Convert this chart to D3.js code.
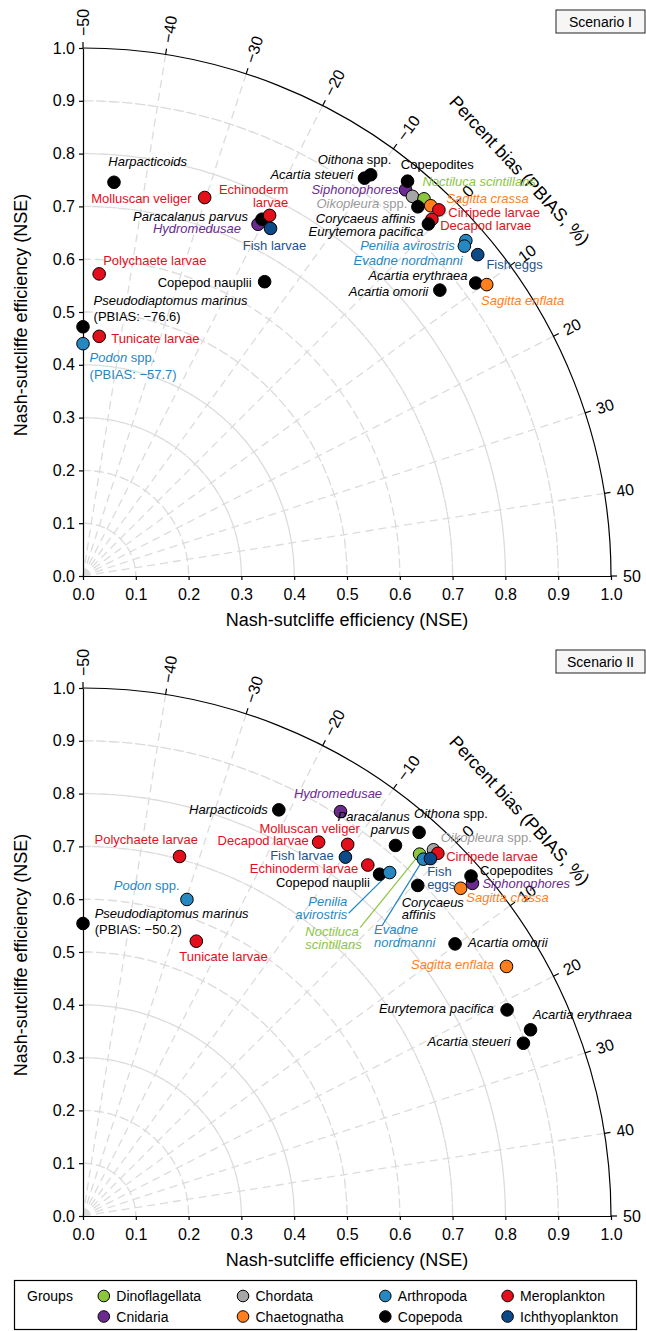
<!DOCTYPE html>
<html><head><meta charset="utf-8">
<script src="https://cdn.jsdelivr.net/npm/d3@7"></script>
<style>
body{margin:0;background:#fff}
svg{display:block;font-family:"Liberation Sans",Arial,Helvetica,sans-serif}
</style>
</head><body>
<svg id="chart" width="646" height="1331"></svg>
<script>
// ---------------- DATA ----------------
const species = ["Harpacticoids","Molluscan veliger","Hydromedusae","Paracalanus parvus","Echinoderm larvae","Fish larvae",
  "Polychaete larvae","Copepod nauplii","Pseudodiaptomus marinus","Tunicate larvae","Podon spp.","Oithona spp.",
  "Acartia steueri","Siphonophores","Copepodites","Oikopleura spp.","Noctiluca scintillans","Sagitta crassa",
  "Cirripede larvae","Corycaeus affinis","Decapod larvae","Eurytemora pacifica","Penilia avirostris","Evadne nordmanni",
  "Fish eggs","Acartia erythraea","Sagitta enflata","Acartia omorii"];
const speciesGroup = ["Copepoda","Meroplankton","Cnidaria","Copepoda","Meroplankton","Ichthyoplankton",
  "Meroplankton","Copepoda","Copepoda","Meroplankton","Arthropoda","Copepoda",
  "Copepoda","Cnidaria","Copepoda","Chordata","Dinoflagellata","Chaetognatha",
  "Meroplankton","Copepoda","Meroplankton","Copepoda","Arthropoda","Arthropoda",
  "Ichthyoplankton","Copepoda","Chaetognatha","Copepoda"];
// Scenario I
const nseScenario1 = [0.748,0.753,0.744,0.756,0.769,0.748,
  0.573,0.655,0.472,0.455,0.440,0.935,
  0.923,0.953,0.968,0.952,0.963,0.962,
  0.967,0.944,0.945,0.934,0.964,0.955,
  0.964,0.928,0.943,0.866];
const pbiasScenario1 = [-45.0,-30.2,-20.6,-20.4,-19.6,-18.5,
  -46.6,-14.8,-76.6,-45.7,-57.7,-10.4,
  -10.8,-5.7,-6.2,-4.5,-3.2,-2.0,
  -0.9,-3.1,-0.7,-0.6,4.2,4.6,
  6.5,9.2,10.2,7.0];
// Scenario II
const nseScenario2 = [0.854,0.864,0.908,0.918,0.856,0.842,
  0.705,0.857,0.554,0.563,0.631,0.966,
  0.896,0.970,0.977,0.960,0.936,0.947,
  0.961,0.891,0.837,0.893,0.872,0.934,
  0.944,0.918,0.931,0.873];
const pbiasScenario2 = [-21.4,-10.6,-13.9,-5.4,-6.6,-9.8,
  -33.3,-4.5,-50.2,-25.1,-29.8,-4.2,
  26.2,5.0,4.2,-1.4,-2.3,4.5,
  -0.7,0.4,-14.2,21.2,-3.6,-1.5,
  -0.9,24.9,16.1,9.8];
const nseTicks = [0,0.1,0.2,0.3,0.4,0.5,0.6,0.7,0.8,0.9,1.0];
const pbiasTicks = [-50,-40,-30,-20,-10,0,10,20,30,40,50];
const groups = ["Dinoflagellata","Cnidaria","Chordata","Chaetognatha","Arthropoda","Copepoda","Meroplankton","Ichthyoplankton"];
const scenarios = ["Scenario I","Scenario II"];

// ---------------- STYLE / LAYOUT ----------------
const groupFill = {Dinoflagellata:"#8cc63f",Cnidaria:"#6a2a8e",Chordata:"#a6a6a6",Chaetognatha:"#ff7f1e",
  Arthropoda:"#2787c1",Copepoda:"#000000",Meroplankton:"#e3101c",Ichthyoplankton:"#0c4a88"};
const groupText = {Dinoflagellata:"#8cc63f",Cnidaria:"#6a2a8e",Chordata:"#9a9a9a",Chaetognatha:"#ff7f1e",
  Arthropoda:"#2787c1",Copepoda:"#000000",Meroplankton:"#e3101c",Ichthyoplankton:"#1d548f"};
const italicSpecies = new Set(["Harpacticoids","Hydromedusae","Paracalanus parvus","Pseudodiaptomus marinus","Podon spp.",
  "Oithona spp.","Acartia steueri","Siphonophores","Oikopleura spp.","Noctiluca scintillans","Sagitta crassa",
  "Corycaeus affinis","Eurytemora pacifica","Penilia avirostris","Evadne nordmanni","Acartia erythraea",
  "Sagitta enflata","Acartia omorii"]);
// label offsets from point: [dx, dy(baseline), anchor, wrap, leaderDx, leaderDy]
const labelLayout1 = {
  "Harpacticoids":[-5.7,-16.3,"start"], "Molluscan veliger":[-13,5,"end"], "Paracalanus parvus":[-14,1.7,"end"],
  "Hydromedusae":[-17,9,"end"], "Echinoderm larvae":[18.7,-21,"end",true], "Fish larvae":[4,22,"middle"],
  "Polychaete larvae":[4,-9,"start"], "Copepod nauplii":[-13,5,"end"], "Pseudodiaptomus marinus":[10.6,-21.6,"start"],
  "Tunicate larvae":[12,7,"start"], "Podon spp.":[6.6,18.7,"start"], "Oithona spp.":[20.7,-11.3,"end"],
  "Acartia steueri":[-11,1,"end"], "Copepodites":[-6.7,-12.4,"start"], "Siphonophores":[-6.7,4.3,"end"],
  "Oikopleura spp.":[-5,11.6,"end"], "Noctiluca scintillans":[-1.6,-12.6,"start"], "Sagitta crassa":[15.7,-2.7,"start"],
  "Cirripede larvae":[9.4,7.3,"start"], "Corycaeus affinis":[-2.3,16,"end"], "Decapod larvae":[8.3,10.7,"start"],
  "Eurytemora pacifica":[-5,12.3,"end"], "Penilia avirostris":[-11,9,"end"], "Evadne nordmanni":[-1.6,19.3,"end"],
  "Fish eggs":[8.7,14.3,"start"], "Acartia erythraea":[-8.3,-3.3,"end"], "Acartia omorii":[-11.6,6,"end"],
  "Sagitta enflata":[-5.7,20,"start"]
};
const labelLayout2 = {
  "Harpacticoids":[-11,4.3,"end"], "Hydromedusae":[-2.5,-14,"middle"], "Paracalanus parvus":[14.3,-24.2,"end",true],
  "Oithona spp.":[-5,-14.4,"start"], "Molluscan veliger":[12.3,-11.8,"end"], "Decapod larvae":[-10,3.3,"end"],
  "Polychaete larvae":[18.4,-12.3,"end"], "Fish larvae":[-11.7,2.8,"end"], "Echinoderm larvae":[-9.6,8.3,"end"],
  "Copepod nauplii":[-9.7,12.8,"end"], "Podon spp.":[-7.4,-9,"end"], "Pseudodiaptomus marinus":[11.7,-5.7,"start"],
  "Tunicate larvae":[-17,20,"start"], "Penilia avirostris":[-42.3,33.4,"end",true,-41,40.7],
  "Noctiluca scintillans":[-114.3,81.7,"start",true,-59.3,73.3], "Evadne nordmanni":[-49.4,75,"start",true,-41,66],
  "Fish eggs":[-3.3,17.4,"start",true], "Corycaeus affinis":[-16,21.3,"start",true], "Oikopleura spp.":[7.3,-7.4,"start"],
  "Cirripede larvae":[8.4,7.7,"start"], "Copepodites":[9,-0.7,"start"], "Siphonophores":[10,5,"start"],
  "Sagitta crassa":[5.7,14,"start"], "Acartia omorii":[13,3,"start"], "Sagitta enflata":[-12.4,2.6,"end"],
  "Eurytemora pacifica":[-13.3,2.7,"end"], "Acartia erythraea":[2.4,-10.7,"start"], "Acartia steueri":[-12.7,2.7,"end"]
};

// ---------------- DRAW ----------------
const svg = d3.select("#chart");
const R = 528, OX = 83;
const rScale = d3.scaleLinear().domain([0,1]).range([0,R]);
const aScale = d3.scaleLinear().domain([-50,50]).range([Math.PI/2,0]).clamp(true);
const fmtPB = v => d3.format(".1f")(v).replace("-","\u2212");
const fmtTick = d => d3.format(".1f")(d);
const minusTick = d => String(d).replace("-","\u2212");

function polar(n,p){ const a=aScale(p), r=rScale(n); return [r*Math.cos(a), -r*Math.sin(a)]; }

function writeLine(textEl, str, italic){
  if(italic && / spp\.$/.test(str)){
    textEl.append("tspan").attr("font-style","italic").text(str.replace(/ spp\.$/,""));
    textEl.append("tspan").text(" spp.");
  } else {
    textEl.append("tspan").attr("font-style", italic ? "italic":"normal").text(str);
  }
}

function drawPanel(oy, nse, pbias, layout, scenario){
  const g = svg.append("g").attr("transform",`translate(${OX},${oy})`);
  const grid = g.append("g").attr("fill","none").attr("stroke","#dcdcdc").attr("stroke-width",1.3).attr("stroke-dasharray","8,5");
  const arcGen = d3.arc().startAngle(0).endAngle(Math.PI/2);
  nseTicks.filter(t=>t>0 && t<1).forEach(t=>{
    grid.append("path").attr("d", arcGen({innerRadius:rScale(t), outerRadius:rScale(t)}));
  });
  pbiasTicks.filter(t=>t>-50 && t<50).forEach(t=>{
    const [x,y]=polar(1,t);
    grid.append("line").attr("x1",0).attr("y1",0).attr("x2",x).attr("y2",y);
  });
  g.append("path").attr("d", arcGen({innerRadius:R, outerRadius:R})).attr("fill","none").attr("stroke","#000").attr("stroke-width",1.2);

  const xScale = d3.scaleLinear().domain([0,1]).range([0,R]);
  const yScale = d3.scaleLinear().domain([0,1]).range([0,-R]);
  const xa = g.append("g").call(d3.axisBottom(xScale).tickValues(nseTicks).tickFormat(fmtTick).tickSize(4).tickSizeOuter(0).tickPadding(9));
  const ya = g.append("g").call(d3.axisLeft(yScale).tickValues(nseTicks).tickFormat(fmtTick).tickSize(4).tickSizeOuter(0).tickPadding(4));
  [xa,ya].forEach(a=>{
    a.attr("font-family",null).attr("font-size",16);
    a.selectAll("path,line").attr("stroke","#000").attr("stroke-width",1.2);
    a.selectAll("text").attr("fill","#000");
  });
  pbiasTicks.forEach(t=>{
    const a=aScale(t);
    g.append("line").attr("x1",R*Math.cos(a)).attr("y1",-R*Math.sin(a))
      .attr("x2",(R+6)*Math.cos(a)).attr("y2",-(R+6)*Math.sin(a)).attr("stroke","#000").attr("stroke-width",1.2);
    const rl=R+12;
    g.append("text").attr("transform",`translate(${rl*Math.cos(a)},${-rl*Math.sin(a)}) rotate(${-a*180/Math.PI})`)
      .attr("dy","0.35em").attr("font-size",16).attr("text-anchor","start").text(minusTick(t));
  });
  g.append("text").attr("x",R/2).attr("y",50).attr("text-anchor","middle").attr("font-size",18).text("Nash-sutcliffe efficiency (NSE)");
  g.append("text").attr("transform",`translate(${-56},${-R/2+3}) rotate(-90)`).attr("text-anchor","middle").attr("font-size",18).text("Nash-sutcliffe efficiency (NSE)");
  const ta = 42.9*Math.PI/180, tr = 596;
  g.append("text").attr("transform",`translate(${tr*Math.cos(ta)},${-tr*Math.sin(ta)}) rotate(${90-42.9})`)
    .attr("text-anchor","middle").attr("dy","0.35em").attr("font-size",18).text("Percent bias (PBIAS, %)");

  const sb = svg.append("g").attr("transform",`translate(556,${oy-R-38})`);
  sb.append("rect").attr("x",0).attr("y",0).attr("width",89).attr("height",23).attr("fill","#f6f6f6").attr("stroke","#222").attr("stroke-width",1);
  sb.append("text").attr("x",44.5).attr("y",16.5).attr("text-anchor","middle").attr("font-size",14).text(scenario);

  const pts = species.map((s,i)=>({name:s, group:speciesGroup[i], nse:nse[i], pb:pbias[i], xy:polar(nse[i],pbias[i])}));
  pts.forEach(p=>{
    const L=layout[p.name];
    if(L && L[4]!==undefined){
      g.append("line").attr("x1",p.xy[0]+L[4]).attr("y1",p.xy[1]+L[5]).attr("x2",p.xy[0]).attr("y2",p.xy[1])
        .attr("stroke",groupText[p.group]).attr("stroke-width",1.2);
    }
  });
  g.append("g").selectAll("circle").data(pts).join("circle")
    .attr("cx",d=>d.xy[0]).attr("cy",d=>d.xy[1]).attr("r",6.3)
    .attr("fill",d=>groupFill[d.group]).attr("stroke","#000").attr("stroke-width",1);
  pts.forEach(p=>{
    const L=layout[p.name]; if(!L) return;
    const italic = italicSpecies.has(p.name);
    const lines = L[3] ? [p.name.slice(0,p.name.indexOf(" ")), p.name.slice(p.name.indexOf(" ")+1)] : [p.name];
    let y = p.xy[1]+L[1];
    lines.forEach((ln)=>{
      const t=g.append("text").attr("x",p.xy[0]+L[0]).attr("y",y).attr("text-anchor",L[2]).attr("font-size",13).attr("fill",groupText[p.group]);
      writeLine(t, ln, italic && !(ln==="spp."));
      y += 12.7;
    });
    if(p.pb < -50 || p.pb > 50){
      y += 16.3-12.7;
      g.append("text").attr("x",p.xy[0]+L[0]).attr("y",y).attr("text-anchor",L[2]).attr("font-size",13)
        .attr("fill",groupText[p.group]).text(`(PBIAS: ${fmtPB(p.pb)})`);
    }
  });
}

drawPanel(576, nseScenario1, pbiasScenario1, labelLayout1, scenarios[0]);
drawPanel(1216, nseScenario2, pbiasScenario2, labelLayout2, scenarios[1]);

const lg = svg.append("g");
lg.append("rect").attr("x",14.5).attr("y",1280.5).attr("width",622).attr("height",49).attr("fill","#fff").attr("stroke","#000").attr("stroke-width",1.2);
lg.append("text").attr("x",27).attr("y",1301).attr("font-size",14).text("Groups");
const colX = [103.8,243,385.3,507.6], rowY=[1296,1316.5];
groups.forEach((gname,i)=>{
  const c=Math.floor(i/2), r=i%2;
  lg.append("circle").attr("cx",colX[c]).attr("cy",rowY[r]).attr("r",5.8).attr("fill",groupFill[gname]).attr("stroke","#000").attr("stroke-width",1);
  lg.append("text").attr("x",colX[c]+12.5).attr("y",rowY[r]+5).attr("font-size",14).text(gname);
});
</script>
</body></html>
